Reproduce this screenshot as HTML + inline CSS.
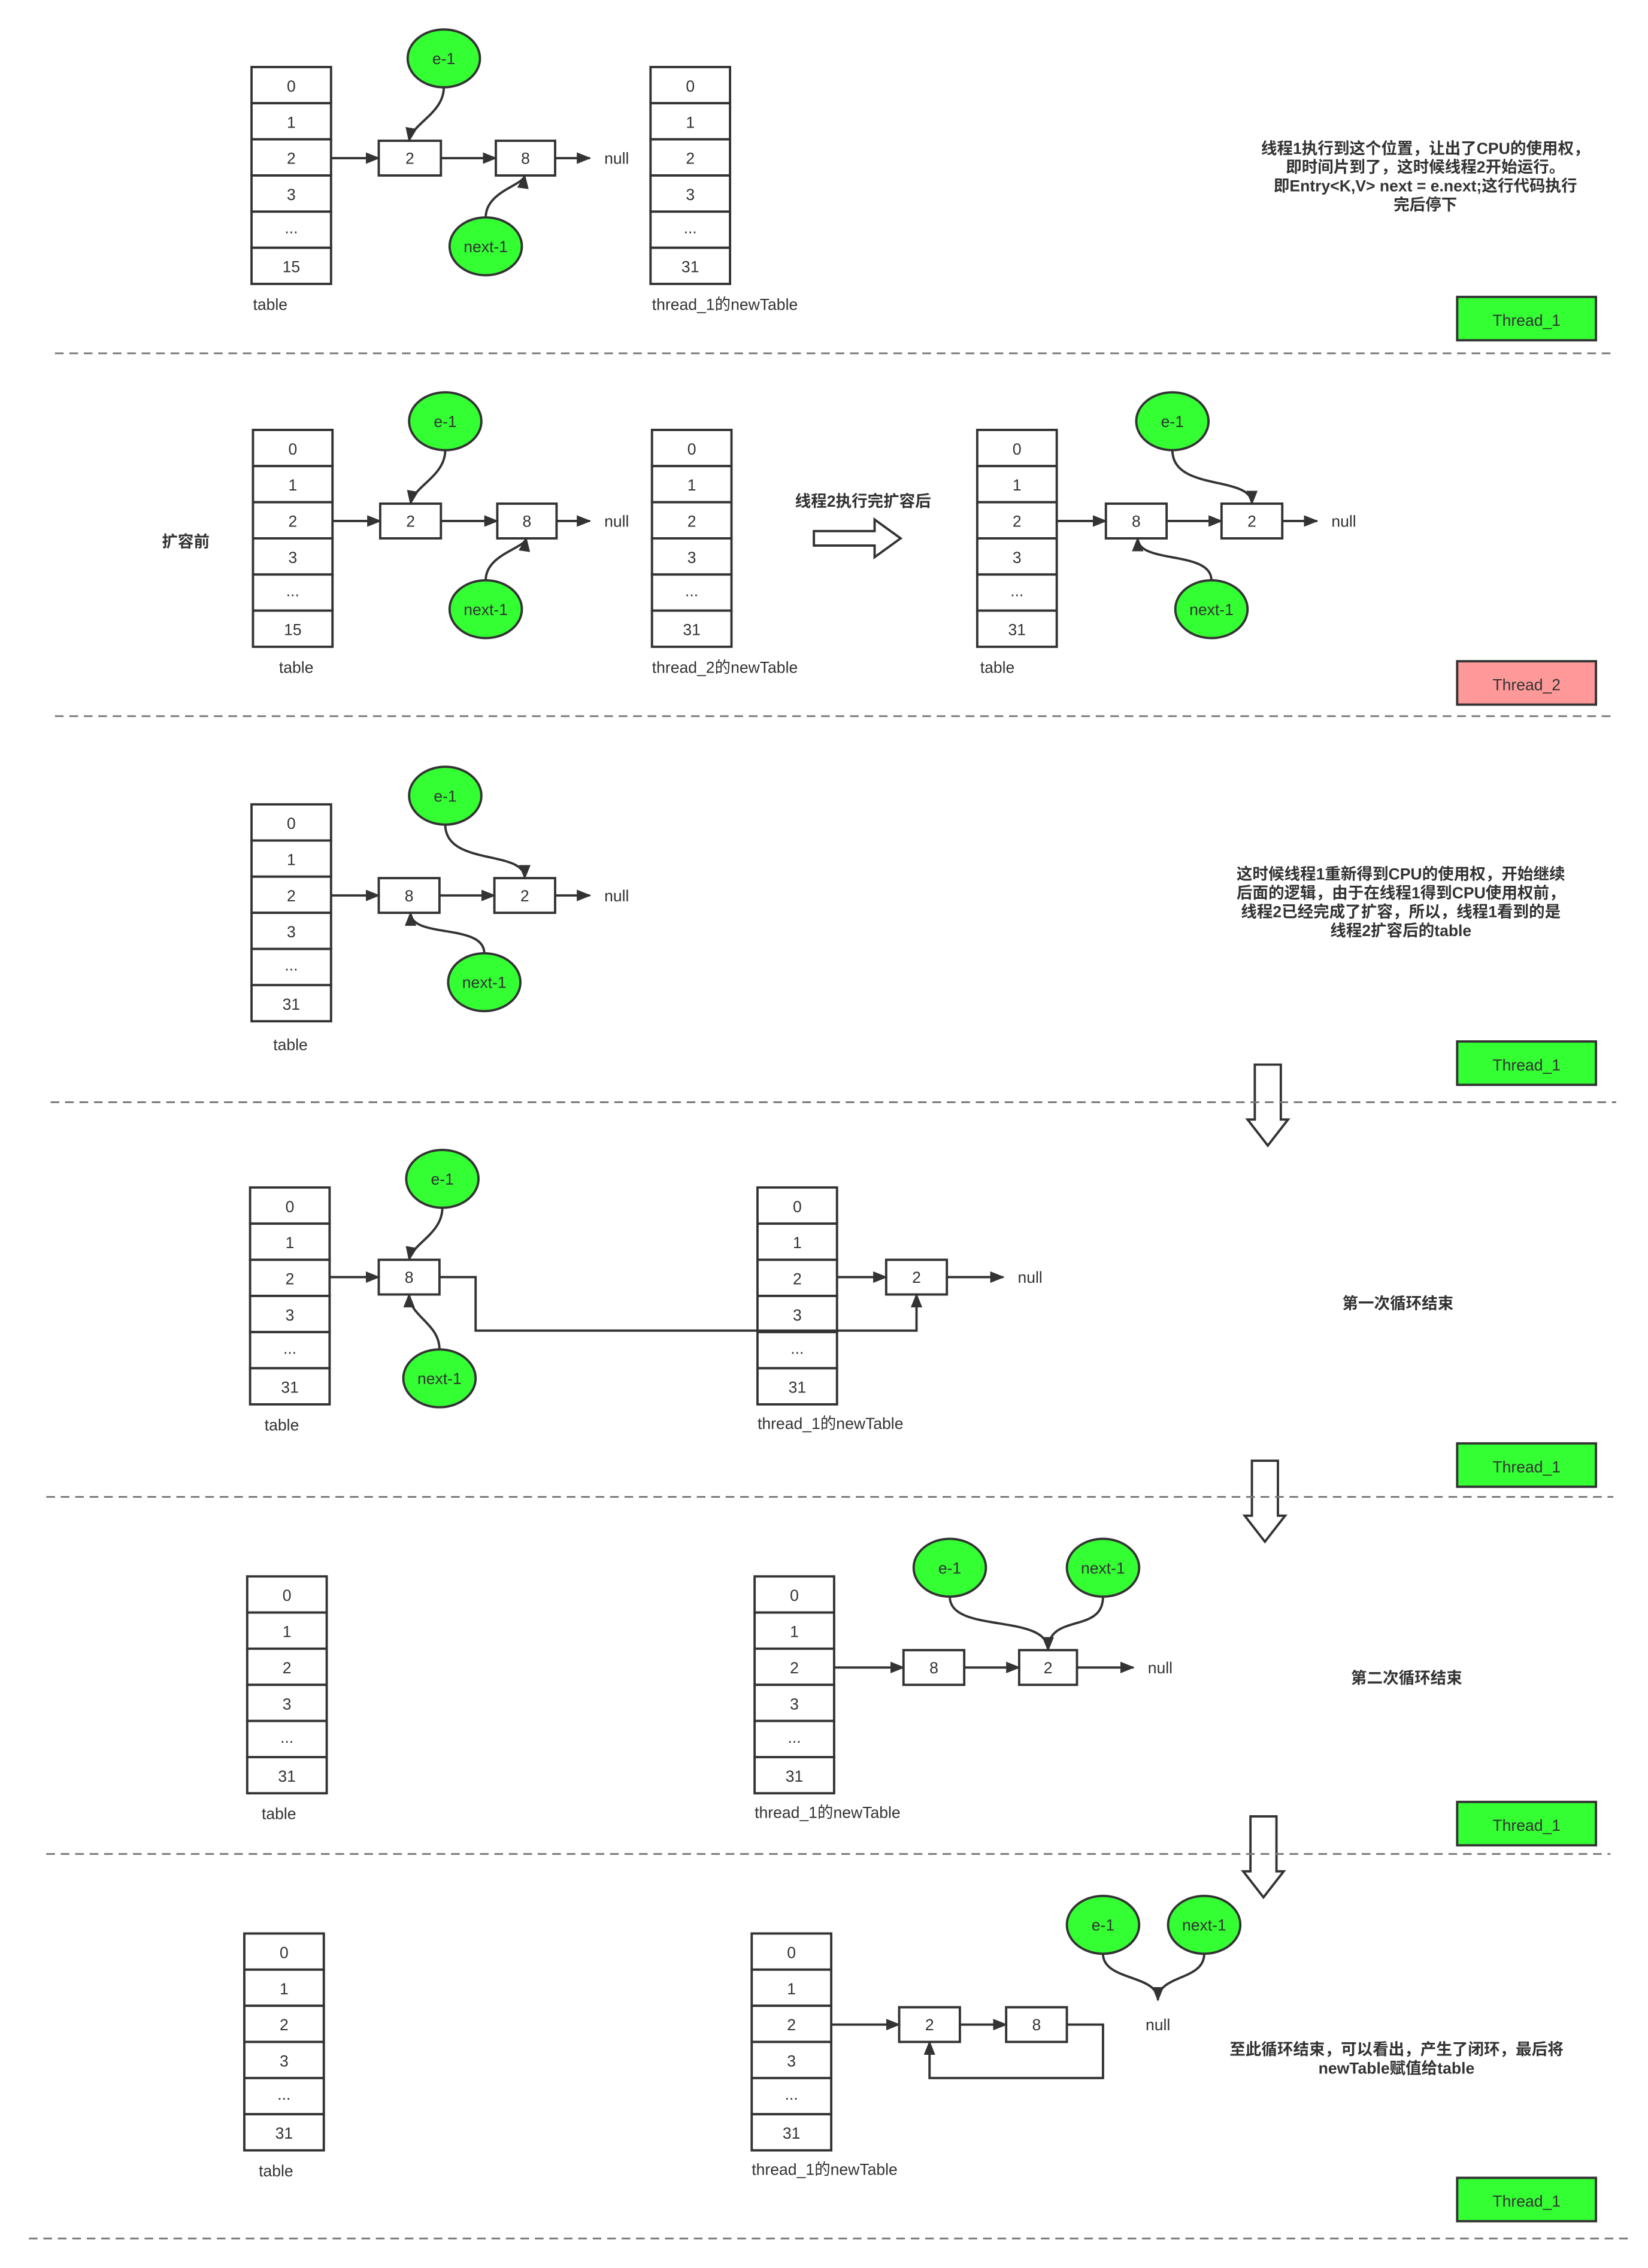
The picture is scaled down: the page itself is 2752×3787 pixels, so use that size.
<!DOCTYPE html>
<html><head><meta charset="utf-8"><style>
html,body{margin:0;padding:0;background:#fff}
svg{display:block}
text{font-family:"Liberation Sans","Noto Sans CJK SC",sans-serif;fill:#333;font-size:11px}
.c{text-anchor:middle}
.b{font-weight:bold}
.r{fill:#fff;stroke:#333;stroke-width:1.6}
.l{fill:none;stroke:#333;stroke-width:1.6}
.g{fill:#33ff33;stroke:#333;stroke-width:1.6}
.d{stroke:#777;stroke-width:1.2;stroke-dasharray:6,4}
</style></head><body>
<svg width="2752" height="3787" viewBox="0 0 1140 1568" xmlns="http://www.w3.org/2000/svg">
<defs>
<marker id="a" markerWidth="10" markerHeight="8" refX="9" refY="4" orient="auto" markerUnits="userSpaceOnUse"><path d="M0,0L10,4L0,8z" fill="#333"/></marker>
<g id="t15">
<rect class="r" x="0" y="0" width="55" height="25"/><rect class="r" x="0" y="25" width="55" height="25"/><rect class="r" x="0" y="50" width="55" height="25"/><rect class="r" x="0" y="75" width="55" height="25"/><rect class="r" x="0" y="100" width="55" height="25"/><rect class="r" x="0" y="125" width="55" height="25"/>
<text class="c" x="27.5" y="17">0</text><text class="c" x="27.5" y="42">1</text><text class="c" x="27.5" y="67">2</text><text class="c" x="27.5" y="92">3</text><text class="c" x="27.5" y="115">...</text><text class="c" x="27.5" y="142">15</text>
</g>
<g id="t31">
<rect class="r" x="0" y="0" width="55" height="25"/><rect class="r" x="0" y="25" width="55" height="25"/><rect class="r" x="0" y="50" width="55" height="25"/><rect class="r" x="0" y="75" width="55" height="25"/><rect class="r" x="0" y="100" width="55" height="25"/><rect class="r" x="0" y="125" width="55" height="25"/>
<text class="c" x="27.5" y="17">0</text><text class="c" x="27.5" y="42">1</text><text class="c" x="27.5" y="67">2</text><text class="c" x="27.5" y="92">3</text><text class="c" x="27.5" y="115">...</text><text class="c" x="27.5" y="142">31</text>
</g>
</defs>

<!-- S1 -->
<use href="#t15" x="174" y="46"/>
<use href="#t31" x="450" y="46"/>
<rect class="r" x="262" y="97" width="43" height="24"/><text class="c" x="283.5" y="113">2</text>
<rect class="r" x="343" y="97" width="41" height="24"/><text class="c" x="363.5" y="113">8</text>
<line class="l" x1="229" y1="109" x2="262" y2="109" marker-end="url(#a)"/>
<line class="l" x1="305" y1="109" x2="343" y2="109" marker-end="url(#a)"/>
<line class="l" x1="384" y1="109" x2="408" y2="109" marker-end="url(#a)"/>
<text x="418" y="113">null</text>
<path class="l" d="M307,60 C307,78 285,85 283,97" marker-end="url(#a)"/>
<path class="l" d="M336,150 C336,132 362,128 363,121" marker-end="url(#a)"/>
<ellipse class="g" cx="307" cy="40" rx="25" ry="20"/><text class="c" x="307" y="44">e-1</text>
<ellipse class="g" cx="336" cy="170" rx="25" ry="20"/><text class="c" x="336" y="174">next-1</text>
<text x="175" y="214">table</text><text x="451" y="214">thread_1的newTable</text>
<text class="c b" x="986" y="106">线程1执行到这个位置，让出了CPU的使用权，</text>
<text class="c b" x="986" y="119">即时间片到了，这时候线程2开始运行。</text>
<text class="c b" x="986" y="132">即Entry&lt;K,V&gt; next = e.next;这行代码执行</text>
<text class="c b" x="986" y="145">完后停下</text>
<rect class="g" x="1008" y="205" width="96" height="30" fill="#22ee22"/><text class="c" x="1056" y="225">Thread_1</text>
<line class="d" x1="38" y1="244" x2="1118" y2="244"/>

<!-- S2 -->
<use href="#t15" x="175" y="297"/>
<use href="#t31" x="451" y="297"/>
<rect class="r" x="263" y="348" width="42" height="24"/><text class="c" x="284" y="364">2</text>
<rect class="r" x="344" y="348" width="41" height="24"/><text class="c" x="364.5" y="364">8</text>
<line class="l" x1="230" y1="360" x2="263" y2="360" marker-end="url(#a)"/>
<line class="l" x1="305" y1="360" x2="344" y2="360" marker-end="url(#a)"/>
<line class="l" x1="385" y1="360" x2="408" y2="360" marker-end="url(#a)"/>
<text x="418" y="364">null</text>
<path class="l" d="M308,311 C308,329 286,336 284,348" marker-end="url(#a)"/>
<path class="l" d="M336,401 C336,383 363,379 364,372" marker-end="url(#a)"/>
<ellipse class="g" cx="308" cy="291" rx="25" ry="20"/><text class="c" x="308" y="295">e-1</text>
<ellipse class="g" cx="336" cy="421" rx="25" ry="20"/><text class="c" x="336" y="425">next-1</text>
<text x="193" y="465">table</text><text x="451" y="465">thread_2的newTable</text>
<text class="b" x="112" y="378">扩容前</text>
<text class="c b" x="597" y="350">线程2执行完扩容后</text>
<path class="r" d="M563,367 L605,367 L605,359 L623,372 L605,385 L605,377 L563,377 Z"/>
<use href="#t31" x="676" y="297"/>
<rect class="r" x="765" y="348" width="42" height="24"/><text class="c" x="786" y="364">8</text>
<rect class="r" x="845" y="348" width="42" height="24"/><text class="c" x="866" y="364">2</text>
<line class="l" x1="731" y1="360" x2="765" y2="360" marker-end="url(#a)"/>
<line class="l" x1="807" y1="360" x2="845" y2="360" marker-end="url(#a)"/>
<line class="l" x1="887" y1="360" x2="911" y2="360" marker-end="url(#a)"/>
<text x="921" y="364">null</text>
<path class="l" d="M811,311 C811,340 866,328 866,348" marker-end="url(#a)"/>
<path class="l" d="M838,401 C838,380 787,390 787,372" marker-end="url(#a)"/>
<ellipse class="g" cx="811" cy="291" rx="25" ry="20"/><text class="c" x="811" y="295">e-1</text>
<ellipse class="g" cx="838" cy="421" rx="25" ry="20"/><text class="c" x="838" y="425">next-1</text>
<text x="678" y="465">table</text>
<rect class="r" x="1008" y="457" width="96" height="30" style="fill:#ff9999"/><text class="c" x="1056" y="477">Thread_2</text>
<line class="d" x1="38" y1="495" x2="1118" y2="495"/>

<!-- S3 -->
<use href="#t31" x="174" y="556"/>
<rect class="r" x="262" y="607" width="42" height="24"/><text class="c" x="283" y="623">8</text>
<rect class="r" x="342" y="607" width="42" height="24"/><text class="c" x="363" y="623">2</text>
<line class="l" x1="229" y1="619" x2="262" y2="619" marker-end="url(#a)"/>
<line class="l" x1="304" y1="619" x2="342" y2="619" marker-end="url(#a)"/>
<line class="l" x1="384" y1="619" x2="408" y2="619" marker-end="url(#a)"/>
<text x="418" y="623">null</text>
<path class="l" d="M308,570 C308,599 363,587 363,607" marker-end="url(#a)"/>
<path class="l" d="M335,659 C335,638 284,649 284,631" marker-end="url(#a)"/>
<ellipse class="g" cx="308" cy="550" rx="25" ry="20"/><text class="c" x="308" y="554">e-1</text>
<ellipse class="g" cx="335" cy="679" rx="25" ry="20"/><text class="c" x="335" y="683">next-1</text>
<text x="189" y="726">table</text>
<text class="c b" x="969" y="608">这时候线程1重新得到CPU的使用权，开始继续</text>
<text class="c b" x="969" y="621">后面的逻辑，由于在线程1得到CPU使用权前，</text>
<text class="c b" x="969" y="634">线程2已经完成了扩容，所以，线程1看到的是</text>
<text class="c b" x="969" y="647">线程2扩容后的table</text>
<rect class="g" x="1008" y="720" width="96" height="30" fill="#22ee22"/><text class="c" x="1056" y="740">Thread_1</text>
<path class="r" d="M868,736 L886,736 L886,774 L891,774 L877,792 L863,774 L868,774 Z"/>
<line class="d" x1="35" y1="762" x2="1118" y2="762"/>

<!-- S4 -->
<use href="#t31" x="173" y="821"/>
<rect class="r" x="262" y="871" width="42" height="24"/><text class="c" x="283" y="887">8</text>
<line class="l" x1="228" y1="883" x2="262" y2="883" marker-end="url(#a)"/>
<path class="l" d="M306,835 C306,853 285,860 283,871" marker-end="url(#a)"/>
<path class="l" d="M304,933 C304,915 283,910 283,895" marker-end="url(#a)"/>
<ellipse class="g" cx="306" cy="815" rx="25" ry="20"/><text class="c" x="306" y="819">e-1</text>
<ellipse class="g" cx="304" cy="953" rx="25" ry="20"/><text class="c" x="304" y="957">next-1</text>
<text x="183" y="989">table</text>
<use href="#t31" x="524" y="821"/>
<rect class="r" x="613" y="871" width="42" height="24"/><text class="c" x="634" y="887">2</text>
<line class="l" x1="579" y1="883" x2="613" y2="883" marker-end="url(#a)"/>
<line class="l" x1="655" y1="883" x2="694" y2="883" marker-end="url(#a)"/>
<text x="704" y="887">null</text>
<path class="l" d="M304,883 L329,883 L329,920 L634,920 L634,895" marker-end="url(#a)"/>
<text x="524" y="988">thread_1的newTable</text>
<text class="c b" x="967" y="905">第一次循环结束</text>
<rect class="g" x="1008" y="998" width="96" height="30" fill="#22ee22"/><text class="c" x="1056" y="1018">Thread_1</text>
<path class="r" d="M866,1010 L884,1010 L884,1048 L889,1048 L875,1066 L861,1048 L866,1048 Z"/>
<line class="d" x1="32" y1="1035" x2="1116" y2="1035"/>

<!-- S5 -->
<use href="#t31" x="171" y="1090"/>
<text x="181" y="1258">table</text>
<use href="#t31" x="522" y="1090"/>
<text x="522" y="1257">thread_1的newTable</text>
<rect class="r" x="625" y="1141" width="42" height="24"/><text class="c" x="646" y="1157">8</text>
<rect class="r" x="705" y="1141" width="40" height="24"/><text class="c" x="725" y="1157">2</text>
<line class="l" x1="577" y1="1153" x2="625" y2="1153" marker-end="url(#a)"/>
<line class="l" x1="667" y1="1153" x2="705" y2="1153" marker-end="url(#a)"/>
<line class="l" x1="745" y1="1153" x2="784" y2="1153" marker-end="url(#a)"/>
<text x="794" y="1157">null</text>
<path class="l" d="M657,1104 C657,1130 725,1115 725,1141" marker-end="url(#a)"/>
<path class="l" d="M763,1104 C763,1130 725,1115 725,1141" marker-end="url(#a)"/>
<ellipse class="g" cx="657" cy="1084" rx="25" ry="20"/><text class="c" x="657" y="1088">e-1</text>
<ellipse class="g" cx="763" cy="1084" rx="25" ry="20"/><text class="c" x="763" y="1088">next-1</text>
<text class="c b" x="973" y="1164">第二次循环结束</text>
<rect class="g" x="1008" y="1246" width="96" height="30" fill="#22ee22"/><text class="c" x="1056" y="1266">Thread_1</text>
<path class="r" d="M865,1256 L883,1256 L883,1294 L888,1294 L874,1312 L860,1294 L865,1294 Z"/>
<line class="d" x1="32" y1="1282" x2="1114" y2="1282"/>

<!-- S6 -->
<use href="#t31" x="169" y="1337"/>
<text x="179" y="1505">table</text>
<use href="#t31" x="520" y="1337"/>
<text x="520" y="1504">thread_1的newTable</text>
<rect class="r" x="622" y="1388" width="42" height="24"/><text class="c" x="643" y="1404">2</text>
<rect class="r" x="696" y="1388" width="42" height="24"/><text class="c" x="717" y="1404">8</text>
<line class="l" x1="575" y1="1400" x2="622" y2="1400" marker-end="url(#a)"/>
<line class="l" x1="664" y1="1400" x2="696" y2="1400" marker-end="url(#a)"/>
<path class="l" d="M738,1400 L763,1400 L763,1437 L643,1437 L643,1412" marker-end="url(#a)"/>
<path class="l" d="M763,1351 C763,1370 801,1365 801,1383" marker-end="url(#a)"/>
<path class="l" d="M833,1351 C833,1370 801,1365 801,1383" marker-end="url(#a)"/>
<ellipse class="g" cx="763" cy="1331" rx="25" ry="20"/><text class="c" x="763" y="1335">e-1</text>
<ellipse class="g" cx="833" cy="1331" rx="25" ry="20"/><text class="c" x="833" y="1335">next-1</text>
<text class="c" x="801" y="1404">null</text>
<text class="c b" x="966" y="1421">至此循环结束，可以看出，产生了闭环，最后将</text>
<text class="c b" x="966" y="1434">newTable赋值给table</text>
<rect class="g" x="1008" y="1506" width="96" height="30" fill="#22ee22"/><text class="c" x="1056" y="1526">Thread_1</text>
<line class="d" x1="20" y1="1548" x2="1128" y2="1548"/>
</svg>
</body></html>
